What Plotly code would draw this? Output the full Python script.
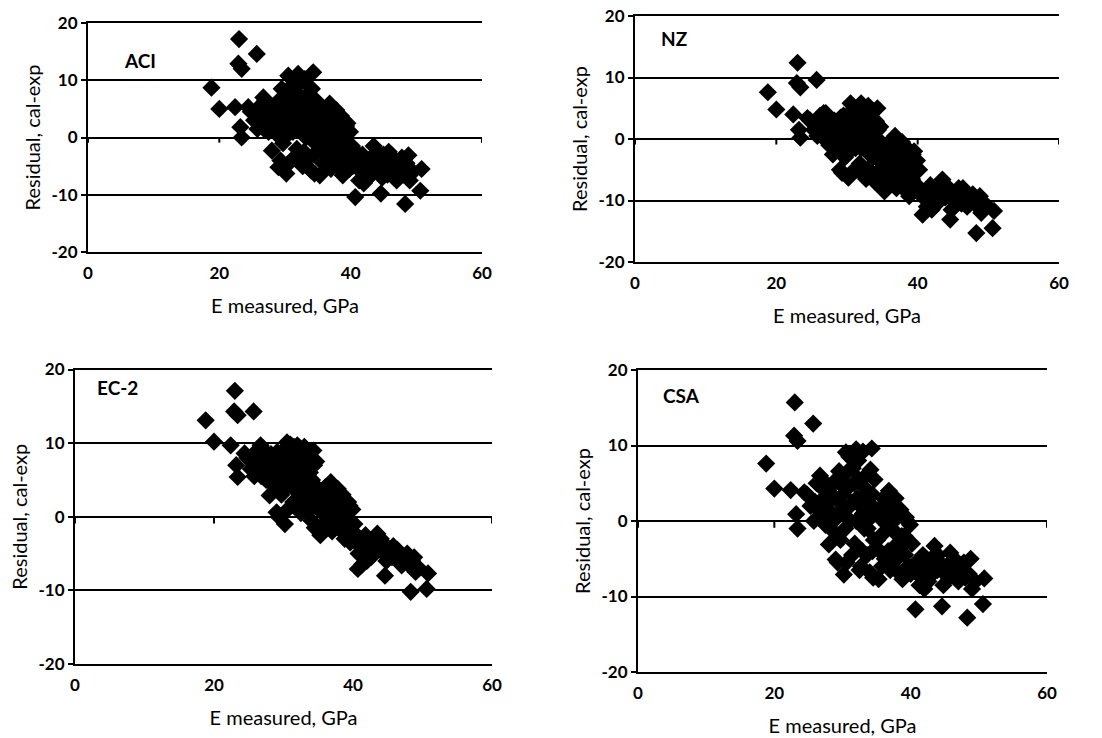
import plotly.graph_objects as go

# Shared measured modulus values (GPa)
e_measured = [
    18.8, 20.0, 23.0, 22.9, 23.4, 25.7, 22.4, 23.4, 23.2, 24.4, 26.7, 28.0, 29.0, 30.2,
    30.5, 32.0, 33.0, 34.3, 34.1, 29.5,
    40.7, 44.6, 48.3, 50.6, 50.8, 48.8,
    24.8, 25.3, 25.8, 26.2, 26.5, 27.0, 27.2, 27.5, 27.8, 28.2, 28.5, 28.8, 29.0, 29.3, 29.6, 29.9,
    30.0, 30.3, 30.6, 30.9, 31.2, 31.5, 31.8, 32.1, 32.4, 32.7, 33.0, 33.2, 33.4, 33.6, 33.8, 34.0,
    34.2, 34.4, 34.6, 34.8, 31.0, 32.5, 33.5, 34.5,
    35.0, 35.3, 35.6, 35.9, 36.2, 36.5, 36.8, 37.0, 37.2, 37.5, 37.8, 38.0, 38.2, 38.5, 38.8, 39.0,
    39.3, 39.6, 39.9, 35.5, 36.0, 36.6, 37.3, 38.3, 39.1, 40.0,
    40.3, 40.8, 41.3, 41.8, 42.2, 42.6, 43.0, 43.5, 43.9, 44.3, 44.8, 45.3, 45.8, 46.2, 46.6, 47.0,
    47.5, 48.0, 48.5, 49.0, 49.5, 42.0, 45.0,
    26.0, 26.8, 27.4, 27.9, 28.4, 28.7, 29.1, 29.4, 29.7, 30.1, 30.4, 30.7, 31.1, 31.4, 31.7, 32.0,
    32.3, 32.6, 32.9, 33.1, 33.7, 34.1, 34.4, 34.7, 35.1, 35.4, 35.8, 36.1, 36.4, 36.7, 37.1, 37.4,
    37.7, 38.1, 38.4, 38.7, 39.2, 39.5, 39.8, 40.2, 41.0, 41.6, 43.2, 44.0, 45.6, 46.4, 47.2, 47.8,
]

res_aci = [
    8.7, 5.0, 17.2, 12.9, 12.0, 14.6, 5.3, 0.0, 1.8, 5.3, 7.0, -2.3, -5.2, -6.3,
    10.8, 11.1, 10.2, 11.4, 8.5, 8.5,
    -10.4, -9.8, -11.6, -9.3, -5.5, -3.1,
    4.5, 3.0, 1.5, 5.5, 2.5, 6.5, 4.0, 1.0, 3.5, 5.5, 2.0, 0.5, 4.0, -4.0, 6.0, 2.5,
    7.0, 3.0, -4.5, 5.5, 1.0, 8.0, -2.0, 4.0, 6.5, -5.0, 2.0, 0.0, 7.5, -3.5, 3.5, -5.8,
    1.5, 5.0, -1.0, 2.5, 9.0, -4.5, 4.5, -6.3,
    3.0, -6.6, 0.5, 4.5, -3.0, 1.5, 5.9, -5.5, 2.0, -1.0, 4.8, -3.5, 0.5, 3.8, -6.6, -1.5,
    2.0, -4.0, 1.0, -2.0, 5.0, -4.5, 3.0, -2.5, 0.0, -5.0,
    -5.0, -2.5, -7.5, -3.0, -5.5, -7.0, -4.0, -1.5, -5.5, -3.5, -7.0, -5.0, -2.5, -6.0, -4.0, -7.5,
    -5.0, -6.5, -4.5, -7.5, -6.0, -8.0, -3.0,
    3.5, 1.5, 5.0, 2.5, 4.5, 1.0, 6.5, 2.0, -1.0, 4.5, 0.5, 8.5, 3.0, -3.5, 6.0, 1.5,
    9.5, 3.0, -2.5, 5.5, 0.5, 3.0, -3.0, 6.5, -1.0, 2.0, -4.5, 0.0, 4.0, -2.0, 3.5, -4.0,
    1.0, 2.5, -5.5, 0.5, -2.5, 2.5, -5.5, -1.5, -4.0, -6.0, -6.5, -2.5, -6.5, -3.5, -5.5, -3.5,
]

res_nz = [
    7.6, 4.8, 12.4, 9.1, 8.4, 9.6, 4.0, 0.2, 1.5, 3.4, 4.2, -2.5, -5.0, -6.3,
    5.8, 5.8, 5.4, 5.0, 2.9, 3.8,
    -12.3, -13.1, -15.3, -14.5, -11.7, -9.3,
    3.0, 1.5, 0.5, 3.8, 1.0, 4.2, 2.0, -1.0, 1.5, 3.0, 0.0, -1.5, 1.8, -5.5, 3.0, 0.0,
    3.5, 0.0, -5.5, 2.5, -1.5, 4.5, -4.0, 1.0, 3.0, -6.5, -1.0, -2.5, 4.0, -5.5, 0.5, -7.0,
    -1.5, 1.5, -3.5, -0.5, 5.0, -6.0, 1.0, -7.5,
    -2.0, -8.5, -4.0, -1.0, -6.5, -3.5, 0.5, -8.0, -3.0, -5.5, -0.5, -7.0, -4.5, -1.5, -9.3, -5.5,
    -2.5, -7.5, -3.5, -6.0, -0.5, -7.5, -2.0, -6.0, -4.0, -8.5,
    -8.0, -9.5, -11.0, -7.5, -9.0, -10.5, -8.0, -6.6, -9.5, -8.5, -11.5, -9.0, -8.0, -10.5, -8.5, -11.0,
    -9.5, -10.0, -11.0, -12.0, -10.5, -11.5, -10.0,
    2.0, 0.0, 3.0, 0.5, 2.0, -1.0, 3.5, -0.5, -3.0, 1.5, -2.0, 4.0, 0.0, -5.0, 2.5, -1.5,
    4.5, -0.5, -5.0, 1.5, -3.0, -1.0, -5.5, 2.0, -4.5, -2.5, -7.0, -4.5, -1.0, -6.0, -2.0, -7.5,
    -4.0, -3.0, -8.5, -5.0, -6.5, -2.0, -8.0, -5.0, -9.0, -10.0, -10.0, -7.5, -10.0, -8.0, -9.5, -9.0,
]

res_ec2 = [
    13.1, 10.2, 17.1, 14.3, 13.8, 14.3, 9.7, 5.4, 7.0, 8.6, 9.7, 2.9, 0.6, -1.0,
    10.1, 9.7, 9.5, 9.0, 7.4, 8.2,
    -7.1, -8.0, -10.2, -9.8, -7.7, -5.5,
    8.0, 6.5, 5.5, 9.0, 6.0, 9.2, 7.0, 5.0, 6.8, 8.5, 5.5, 4.0, 7.0, 0.0, 8.5, 5.0,
    9.0, 6.0, 1.0, 8.0, 5.0, 9.5, 3.5, 7.0, 8.5, 1.5, 5.5, 4.0, 8.8, 1.0, 6.0, -0.5,
    4.5, 7.0, 2.5, 4.0, 9.8, 0.5, 6.5, -1.5,
    2.0, -2.5, 0.5, 3.5, -1.0, 1.5, 4.7, -2.0, 2.5, 0.0, 3.8, -1.5, 1.0, 3.0, -3.0, -0.5,
    2.0, -3.5, 1.0, -1.5, 4.0, -1.5, 3.0, -1.0, 0.5, -2.0,
    -3.0, -5.0, -6.5, -2.5, -4.0, -5.5, -3.5, -2.3, -4.5, -3.5, -6.0, -4.5, -4.0, -5.5, -5.0, -6.6,
    -5.5, -6.5, -6.0, -7.5, -7.0, -6.0, -5.0,
    7.5, 5.5, 8.0, 6.0, 7.5, 4.8, 8.8, 5.5, 3.0, 7.5, 4.0, 9.0, 6.5, 2.0, 8.0, 5.0,
    9.0, 6.0, 2.5, 7.0, 4.0, 5.0, 1.5, 7.5, 1.5, 3.0, -1.0, 2.0, 3.5, 0.5, 3.5, -1.0,
    2.0, 2.5, -2.0, 1.0, -1.0, 1.5, -3.0, -1.0, -4.0, -5.0, -4.0, -3.0, -5.5, -4.5, -5.5, -5.0,
]

res_csa = [
    7.6, 4.3, 15.7, 11.3, 10.6, 12.9, 4.1, -1.0, 0.9, 3.8, 6.0, -3.1, -5.1, -7.1,
    9.1, 9.5, 9.2, 9.6, 6.8, 6.6,
    -11.7, -11.3, -12.8, -11.0, -7.6, -5.0,
    3.5, 2.0, 0.0, 5.0, 1.5, 5.5, 3.0, -0.5, 2.5, 4.5, 1.0, -1.5, 3.0, -5.5, 5.0, 1.0,
    6.0, 2.0, -5.5, 4.5, 0.0, 7.0, -3.0, 3.0, 5.5, -6.0, 1.0, -1.0, 6.0, -4.5, 2.5, -6.8,
    0.5, 3.5, -2.5, 1.5, 8.5, -6.5, 3.5, -7.5,
    1.0, -7.7, -2.0, 2.0, -5.0, -0.5, 4.0, -6.5, -1.0, -3.5, 3.0, -5.0, -2.0, 1.5, -7.7, -3.0,
    0.5, -6.0, -0.5, -4.0, 3.0, -6.0, 1.0, -4.5, -2.0, -7.0,
    -6.0, -5.5, -8.5, -4.5, -6.5, -8.0, -5.0, -3.3, -6.5, -5.5, -8.5, -6.0, -4.2, -7.0, -6.0, -8.0,
    -6.5, -7.5, -7.0, -9.0, -8.0, -9.0, -7.0,
    2.5, 0.5, 4.0, 1.5, 3.0, 0.0, 5.5, 1.0, -2.5, 3.5, -1.0, 6.5, 2.0, -4.5, 5.0, 0.0,
    8.0, 2.0, -4.0, 4.5, -1.0, 1.5, -4.0, 5.5, -2.5, 0.5, -6.0, -1.5, 2.5, -4.0, 2.0, -6.0,
    -1.5, 0.5, -7.0, -2.0, -4.5, 0.0, -6.5, -3.0, -7.0, -7.5, -7.0, -4.5, -7.5, -5.0, -6.5, -5.5,
]

panel_names = ["ACI", "NZ", "EC-2", "CSA"]
panel_values = [res_aci, res_nz, res_ec2, res_csa]
x_ticks = [0, 20, 40, 60]
x_tick_text = ["0", "20", "40", "60"]
y_ticks = [-20, -10, 0, 10, 20]
y_tick_text = ["-20", "-10", "0", "10", "20"]
x_title = "E measured, GPa"
y_title = "Residual, cal-exp"

W, H = 1102, 738
# plot-area boxes in pixels: left, right, top, bottom
boxes = [
    (88, 482, 23, 252),
    (635, 1059, 16, 262),
    (75, 492, 369.5, 664),
    (638, 1047, 370, 672),
]
label_pos = [(5.2, 13.5), (3.4, 16.4), (2.9, 17.6), (3.4, 16.6)]

FONT = "Lato, 'Open Sans', sans-serif"
fig = go.Figure()
layout = dict(
    width=W, height=H, margin=dict(l=0, r=0, t=0, b=0, autoexpand=False),
    paper_bgcolor="white", plot_bgcolor="white", showlegend=False,
    font=dict(family=FONT, color="black"),
)
annotations = []
shapes = []
for i, (name, vals) in enumerate(zip(panel_names, panel_values)):
    n = "" if i == 0 else str(i + 1)
    l, r, t, b = boxes[i]
    fig.add_trace(go.Scatter(
        x=e_measured, y=vals, mode="markers", xaxis="x" + n, yaxis="y" + n,
        marker=dict(symbol="diamond", size=14, color="black", line=dict(width=0)),
        hoverinfo="x+y",
    ))
    layout["xaxis" + n] = dict(
        domain=[l / W, r / W], anchor="y" + n, range=[0, 60], automargin=False,
        tickvals=x_ticks, ticktext=x_tick_text, showgrid=False, zeroline=False,
        showline=True, mirror=True, linecolor="black", linewidth=2,
        ticks="outside", ticklen=5, tickcolor="rgba(0,0,0,0)",
        tickfont=dict(size=17, family=FONT, weight="bold"),
        title=dict(text=x_title, font=dict(size=20, family=FONT), standoff=17),
    )
    layout["yaxis" + n] = dict(
        domain=[1 - b / H, 1 - t / H], anchor="x" + n, range=[-20, 20], automargin=False,
        tickvals=y_ticks, ticktext=y_tick_text, showgrid=True, gridcolor="black", gridwidth=2,
        zeroline=True, zerolinecolor="black", zerolinewidth=2,
        showline=True, mirror=False, linecolor="black", linewidth=2,
        ticks="outside", ticklen=5, tickwidth=2, tickcolor="black",
        tickfont=dict(size=17, family=FONT, weight="bold"),
        title=dict(text=y_title, font=dict(size=20, family=FONT), standoff=6),
    )
    lx, ly = label_pos[i]
    annotations.append(dict(
        x=lx, y=ly, xref="x" + n, yref="y" + n, text=name, showarrow=False,
        xanchor="left", yanchor="middle",
        font=dict(size=19, family=FONT, weight="bold", color="black"),
    ))
    for xv in x_ticks:
        shapes.append(dict(
            type="line", xref="x" + n, yref="y" + n, x0=xv, x1=xv, y0=0, y1=-0.9,
            line=dict(color="black", width=2),
        ))

layout["annotations"] = annotations
layout["shapes"] = shapes
fig.update_layout(**layout)
fig.write_html(
    "out.html",
    config={"displayModeBar": False},
    post_script="document.body.style.margin='0';document.body.style.padding='0';",
)
